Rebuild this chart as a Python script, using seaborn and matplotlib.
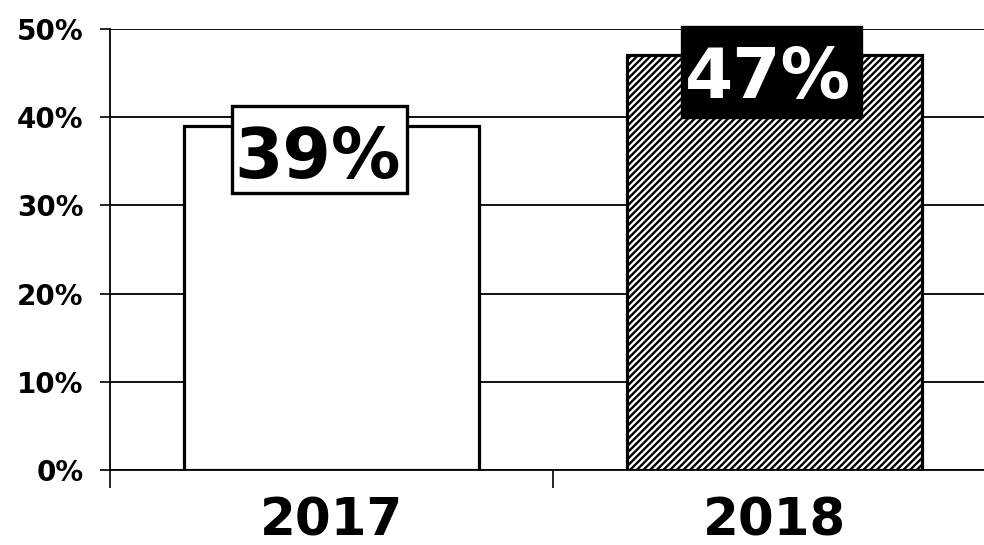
import pandas as pd
import matplotlib
matplotlib.use("Agg")
import matplotlib.pyplot as plt
from matplotlib.patches import Rectangle
import seaborn as sns

years = ["2017", "2018"]
shares = [39, 47]
labels = ["39%", "47%"]

df = pd.DataFrame({"year": years, "share": shares})

sns.set_style("white")
plt.rcParams["font.family"] = ["DejaVu Sans"]
plt.rcParams["hatch.linewidth"] = 1.7
plt.rcParams["text.color"] = "black"
plt.rcParams["xtick.color"] = "black"
plt.rcParams["ytick.color"] = "black"

fig = plt.figure(figsize=(9.84, 5.45), dpi=100)
ax = fig.add_axes([110 / 984, 75 / 545, 886 / 984, 441 / 545])

sns.barplot(data=df, x="year", y="share", color="white", width=0.667,
            edgecolor="black", linewidth=2.3, ax=ax)
ax.patches[1].set_hatch("/////")

ax.set_ylim(0, 50)
ax.set_xlim(-0.5, 1.5)
ax.set_yticks(range(0, 51, 10))
ax.set_yticklabels([f"{v}%" for v in range(0, 51, 10)], fontsize=20, fontweight="bold")
ax.set_xticks([0, 1])
ax.set_xticklabels(years, fontsize=37, fontweight="bold")
ax.set_xticks([-0.5, 0.5, 1.5], minor=True)
ax.tick_params(axis="x", which="major", length=0, pad=19, bottom=True)
ax.tick_params(axis="x", which="minor", length=13, width=1.2, direction="out", bottom=True)
ax.tick_params(axis="y", length=7, width=1.2, direction="out", pad=12, left=True)
ax.grid(axis="y", color="black", linewidth=1.3)
ax.set_axisbelow(True)
ax.set_xlabel("")
ax.set_ylabel("")

for s in ["top", "right"]:
    ax.spines[s].set_visible(False)
ax.spines["left"].set_color("black")
ax.spines["left"].set_linewidth(1.3)
ax.spines["bottom"].set_color("black")
ax.spines["bottom"].set_linewidth(1.3)

# label boxes
ax.add_patch(Rectangle((-0.2255, 31.4), 0.3965, 9.87, facecolor="white",
                       edgecolor="black", linewidth=2.4, zorder=5, clip_on=False))
ax.add_patch(Rectangle((1 - 0.2086, 40.0), 0.4036, 10.2, facecolor="black",
                       edgecolor="black", linewidth=2.4, zorder=5, clip_on=False))

ax.text(-0.032, 33.1, labels[0], ha="center", va="baseline", fontsize=50,
        fontweight="bold", color="black", zorder=6)
ax.text(1 - 0.015, 42.18, labels[1], ha="center", va="baseline", fontsize=50,
        fontweight="bold", color="white", zorder=6, clip_on=False)

fig.savefig("out.png", dpi=100)
